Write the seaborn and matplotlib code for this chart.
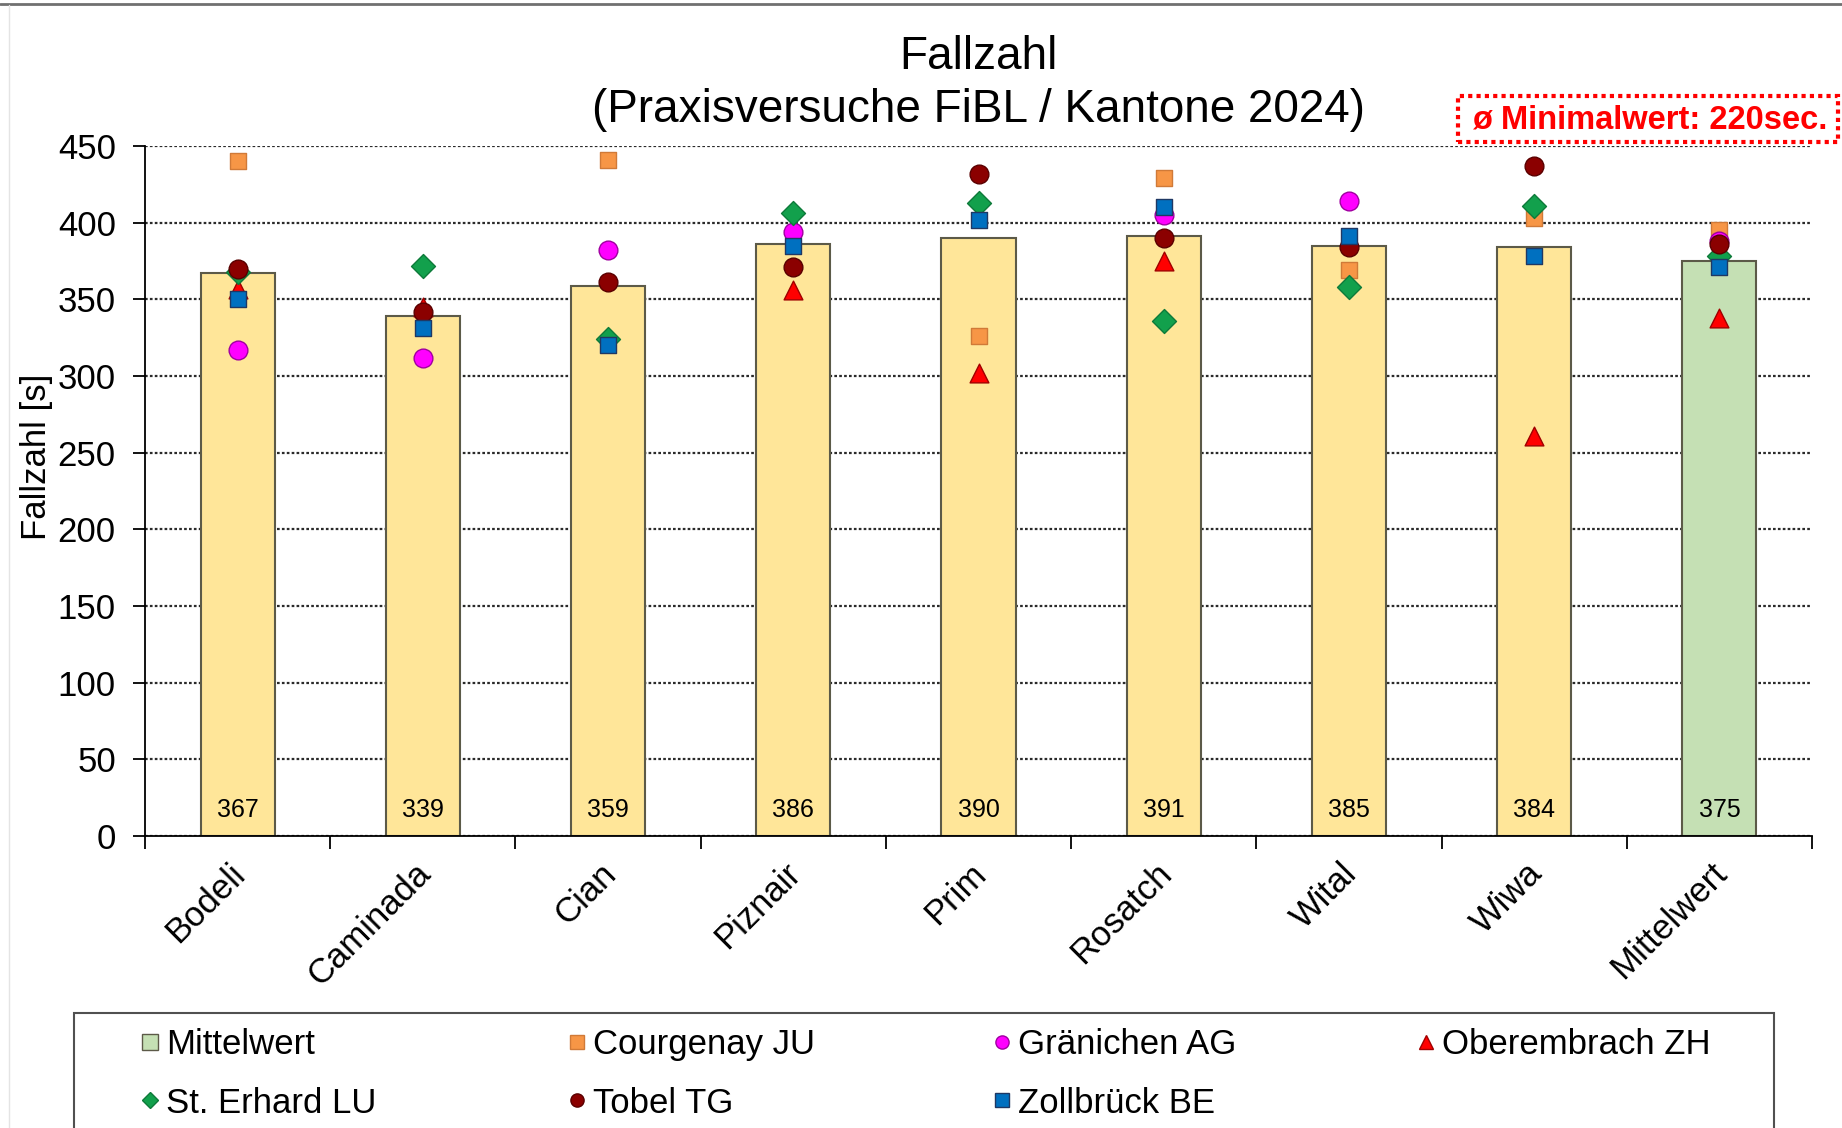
import numpy as np
import matplotlib
matplotlib.use("Agg")
import matplotlib.pyplot as plt
import seaborn as sns
from matplotlib.lines import Line2D
from matplotlib.patches import Rectangle
from matplotlib.transforms import ScaledTranslation

# ---------------- data ----------------
categories = ["Bodeli", "Caminada", "Cian", "Piznair", "Prim", "Rosatch", "Wital", "Wiwa", "Mittelwert"]
bar_values = [367, 339, 359, 386, 390, 391, 385, 384, 375]
nan = np.nan
courgenay = [440, nan, 441, nan, 326, 429, 369, 403, 395]
graenichen = [317, 312, 382, 394, nan, 405, 414, nan, 388]
oberembrach = [357, 345, nan, 356, 302, 375, nan, 261, 338]
st_erhard = [368, 372, 324, 406, 413, 336, 358, 411, 378]
tobel = [370, 342, 361, 371, 432, 390, 384, 437, 386]
zollbrueck = [350, 331, 320, 385, 402, 410, 391, 378, 371]

station_names = ["Courgenay JU", "Gränichen AG", "Oberembrach ZH", "St. Erhard LU", "Tobel TG", "Zollbrück BE"]
station_values = [courgenay, graenichen, oberembrach, st_erhard, tobel, zollbrueck]
station_markers = ["s", "o", "^", "D", "o", "s"]
station_colors = ["#F79646", "#FF00FF", "#FF0000", "#12A04C", "#8B0000", "#0070C0"]
station_edges = ["#D07A38", "#A000A0", "#A00000", "#0E7A3A", "#5A0000", "#1F3864"]
station_sizes = [12.0, 13.5, 13.5, 12.2, 13.5, 12.0]

bar_colors = ["#FFE699"] * 8 + ["#C5E0B4"]
title_lines = ["Fallzahl", "(Praxisversuche FiBL / Kantone 2024)"]
y_label = "Fallzahl [s]"
note_text = "ø Minimalwert: 220sec."
y_ticks = list(range(0, 451, 50))

# ---------------- style ----------------
sns.set_style("ticks")
plt.rcParams["font.family"] = ["Liberation Sans", "DejaVu Sans"]
plt.rcParams["text.color"] = "black"
plt.rcParams["axes.labelcolor"] = "black"
plt.rcParams["xtick.color"] = "black"
plt.rcParams["ytick.color"] = "black"

W, H = 1842, 1128
fig = plt.figure(figsize=(W / 100, H / 100), dpi=100)
fig.patch.set_facecolor("white")
ax = fig.add_axes([145 / W, 1 - 836 / H, (1812 - 145) / W, (836 - 146) / H])

sns.barplot(x=categories, y=bar_values, hue=categories, palette=bar_colors, order=categories,
            hue_order=categories, legend=False, width=0.4, saturation=1,
            edgecolor="#5c5a48", linewidth=1.5, ax=ax, zorder=2)

for name, vals, mk, col, ec, sz in zip(station_names, station_values, station_markers,
                                       station_colors, station_edges, station_sizes):
    sns.stripplot(x=categories, y=vals, order=categories, jitter=False, marker=mk,
                  color=col, edgecolor=ec, linewidth=1.0, size=sz, ax=ax, zorder=3)

for i, v in enumerate(bar_values):
    ax.text(i, 17, str(v), ha="center", va="center", fontsize=18, color="black", zorder=4)

ax.set_xlim(-0.5, len(categories) - 0.5)
ax.set_ylim(0, 450)
ax.set_yticks(y_ticks)
ax.set_yticklabels([str(t) for t in y_ticks])
ax.set_axisbelow(True)
ax.yaxis.grid(True, linestyle=(0, (1.2, 1.0)), color="#2a2a2a", linewidth=1.6)
ax.xaxis.grid(False)

ax.set_xticks(range(len(categories)))
ax.set_xticklabels(categories, rotation=45, ha="right", rotation_mode="anchor", fontsize=25)
ax.set_xticks(np.arange(-0.5, len(categories), 1), minor=True)
ax.tick_params(axis="x", which="major", length=0, pad=15)
ax.tick_params(axis="x", which="minor", length=9, width=1.3, direction="out", color="black")
ax.tick_params(axis="y", which="major", length=9, width=1.3, direction="out", labelsize=25, pad=12,
               color="black")
shift = ScaledTranslation(-0.09, 0, fig.dpi_scale_trans)
for lab in ax.get_xticklabels():
    lab.set_transform(lab.get_transform() + shift)
ax.set_ylabel(y_label, fontsize=25)
ax.yaxis.set_label_coords(-0.055, 0.55)
ax.set_xlabel("")

for s in ["top", "right"]:
    ax.spines[s].set_visible(False)
for s in ["left", "bottom"]:
    ax.spines[s].set_color("black")
    ax.spines[s].set_linewidth(1.3)

# titles
fig.text(978 / W, 1 - 57 / H, title_lines[0], ha="center", va="center", fontsize=33)
fig.text(978 / W, 1 - 110 / H, title_lines[1], ha="center", va="center", fontsize=33)

# red note box
fig.patches.append(Rectangle((1458 / W, 1 - 142 / H), 380 / W, 46 / H, transform=fig.transFigure,
                             facecolor="white", edgecolor="#FF0000", linewidth=3,
                             linestyle=(0, (1, 1)), zorder=5))
fig.text(1650 / W, 1 - 120 / H, note_text, ha="center", va="center", fontsize=23.5,
         fontweight="bold", color="#FF0000", zorder=6)

# top border line and faint left border
fig.add_artist(Line2D([0, 1], [1 - 4 / H, 1 - 4 / H], transform=fig.transFigure, color="#707070", linewidth=2))
fig.add_artist(Line2D([9 / W, 9 / W], [0, 1 - 5 / H], transform=fig.transFigure, color="#e4e4e4", linewidth=1))

# legend frame
fig.patches.append(Rectangle((74 / W, -0.05), 1700 / W, 0.05 + 1 - 1013 / H, transform=fig.transFigure,
                             facecolor="white", edgecolor="#505050", linewidth=1.5, zorder=1))

handles = [Line2D([], [], linestyle="none", marker="s", markersize=11, markerfacecolor="#C5E0B4",
                  markeredgecolor="#5c5a48", markeredgewidth=1.0, label="Mittelwert")]
for name, mk, col, ec in zip(station_names, station_markers, station_colors, station_edges):
    handles.append(Line2D([], [], linestyle="none", marker=mk, markersize=9.5 if mk != "D" else 8.5,
                          markerfacecolor=col, markeredgecolor=ec, markeredgewidth=1.0, label=name))

col_groups = [[handles[0], handles[4]], [handles[1], handles[5]], [handles[2], handles[6]], [handles[3]]]
col_x = [133, 560, 985, 1409]
for grp, x in zip(col_groups, col_x):
    fig.legend(handles=grp, loc="upper left", bbox_to_anchor=(x / W, 1 - 1021 / H),
               bbox_transform=fig.transFigure, frameon=False, fontsize=25, handlelength=0.6,
               handletextpad=0.15, labelspacing=0.74, borderpad=0.2, borderaxespad=0)

fig.savefig("out.png", dpi=100, facecolor="white")
